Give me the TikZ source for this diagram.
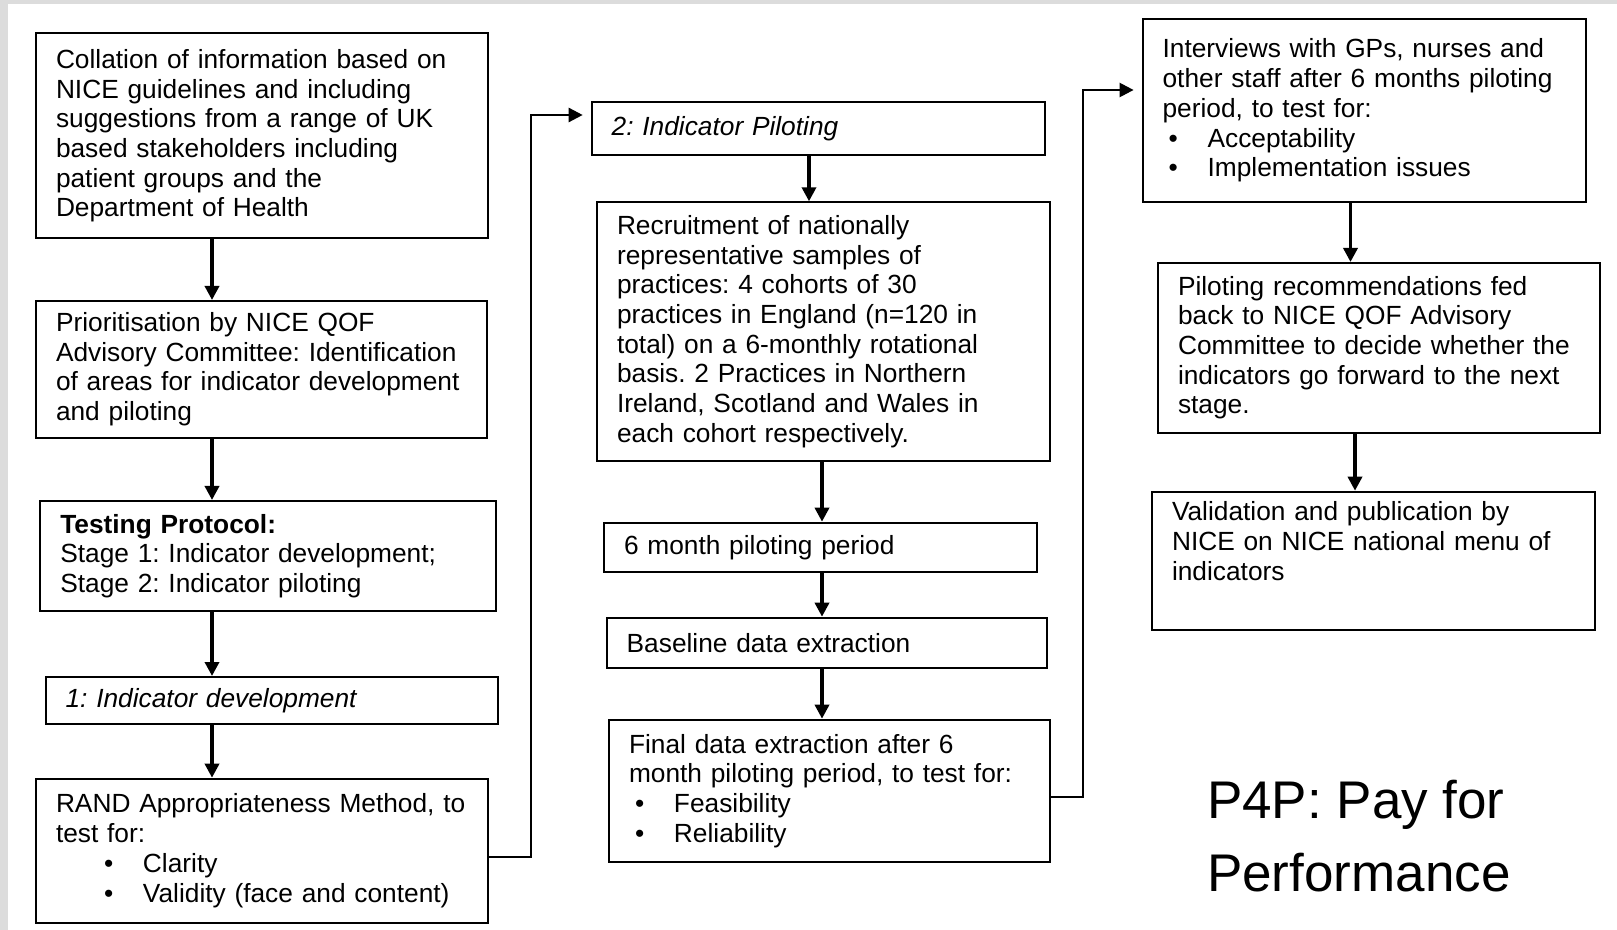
\documentclass[tikz,border=0pt]{standalone}
\usepackage{fontspec}
\setmainfont{Liberation Sans}
\usetikzlibrary{arrows.meta}
\definecolor{framegrey}{RGB}{220,220,220}
\newcommand{\bul}[1][3pt]{\hspace*{#1}\makebox[19.5pt][l]{\textbullet}}
\frenchspacing
\hyphenpenalty=10000
\tikzset{
  stage/.style={draw, line width=1pt, anchor=north west, align=left,
    inner xsep=10pt, inner ysep=5pt,
    font=\fontsize{13.15pt}{14.85pt}\selectfont\frenchspacing},
  flow/.style={-{Triangle[width=7pt,length=7pt]}, line width=1.7pt},
  loopback/.style={-{Triangle[width=7pt,length=7pt]}, line width=1.2pt},
}
\begin{document}
\begin{tikzpicture}[x=0.5pt,y=0.5pt,yscale=-1]
\fill[framegrey] (0,0) rectangle (1617,930);
\fill[white] (8,4) rectangle (1617,930);
\useasboundingbox (0,0) rectangle (1617,930);

% Stage 1 column
\node[stage, text width=206.2pt, minimum height=102.5pt] (b1) at (35,32.3)
  {Collation of information based on\\NICE guidelines and including\\suggestions from a range of UK\\based stakeholders including\\patient groups and the\\Department of Health};
\node[stage, text width=205.3pt, minimum height=68.3pt] (b2) at (35,300)
  {Prioritisation by NICE QOF\\Advisory Committee: Identification\\of areas for indicator development\\and piloting};
\node[stage, text width=208pt, minimum height=55pt] (b3) at (39.3,500)
  {\textbf{Testing Protocol:}\\Stage 1: Indicator development;\\Stage 2: Indicator piloting};
\node[stage, text width=206.2pt, minimum height=23.7pt] (b4) at (44.6,676)
  {\itshape 1: Indicator development};
\node[stage, text width=206.2pt, minimum height=72pt] (b5) at (35,777.7)
  {RAND Appropriateness Method, to\\test for:\\\bul[24pt]Clarity\\\bul[24pt]Validity (face and content)};

% Stage 2 column
\node[stage, text width=206.7pt, minimum height=26.7pt] (b6) at (590.7,101)
  {\itshape 2: Indicator Piloting};
\node[stage, text width=206.3pt, minimum height=129.3pt] (b7) at (596,201.3)
  {Recruitment of nationally\\representative samples of\\practices: 4 cohorts of 30\\practices in England (n=120 in\\total) on a 6-monthly rotational\\basis. 2 Practices in Northern\\Ireland, Scotland and Wales in\\each cohort respectively.};
\node[stage, text width=196.5pt, minimum height=24.7pt] (b8) at (603,521.7)
  {6 month piloting period};
\node[stage, text width=200pt, minimum height=25pt] (b9) at (605.7,616.7)
  {Baseline data extraction};
\node[stage, text width=200.3pt, minimum height=71.2pt] (b10) at (608,718.7)
  {Final data extraction after 6\\month piloting period, to test for:\\\bul Feasibility\\\bul Reliability};

% outcome column
\node[stage, text width=201.5pt, minimum height=91.3pt] (b11) at (1141.6,18.3)
  {Interviews with GPs, nurses and\\other staff after 6 months piloting\\period, to test for:\\\bul Acceptability\\\bul Implementation issues};
\node[stage, text width=200.9pt, minimum height=84.8pt] (b12) at (1157,262)
  {Piloting recommendations fed\\back to NICE QOF Advisory\\Committee to decide whether the\\indicators go forward to the next\\stage.};
\node[stage, text width=201.5pt, text depth=49.4pt] (b13) at (1151,490.7)
  {Validation and publication by\\NICE on NICE national menu of\\indicators};

\node[anchor=base west, align=left, inner sep=0pt,
  font=\fontsize{26.5pt}{36.7pt}\selectfont] (p4p) at (1206.7,891.7)
  {P4P: Pay for\\Performance};

% arrows
\coordinate (lc) at (212,0);
\coordinate (mt) at (809,0);
\coordinate (mc) at (822,0);
\coordinate (rc1) at (1350.5,0);
\coordinate (rc2) at (1355,0);
\draw[flow] (b1.south -| lc) -- (b2.north -| lc);
\draw[flow] (b2.south -| lc) -- (b3.north -| lc);
\draw[flow] (b3.south -| lc) -- (b4.north -| lc);
\draw[flow] (b4.south -| lc) -- (b5.north -| lc);
\draw[flow] (b6.south -| mt) -- (b7.north -| mt);
\draw[flow] (b7.south -| mc) -- (b8.north -| mc);
\draw[flow] (b8.south -| mc) -- (b9.north -| mc);
\draw[flow] (b9.south -| mc) -- (b10.north -| mc);
\draw[flow] (b11.south -| rc1) -- (b12.north -| rc1);
\draw[flow] (b12.south -| rc2) -- (b13.north -| rc2);

% links between columns
\coordinate (j1) at (531,856.7);
\coordinate (k1) at (531,115);
\draw[loopback] (b5.east |- j1) -| (k1) -- ([xshift=-4pt]b6.west |- k1);
\coordinate (j2) at (1082.7,796.7);
\coordinate (k2) at (1082.7,90);
\draw[loopback] (b10.east |- j2) -| (k2) -- ([xshift=-4pt]b11.west |- k2);
\end{tikzpicture}
\end{document}
